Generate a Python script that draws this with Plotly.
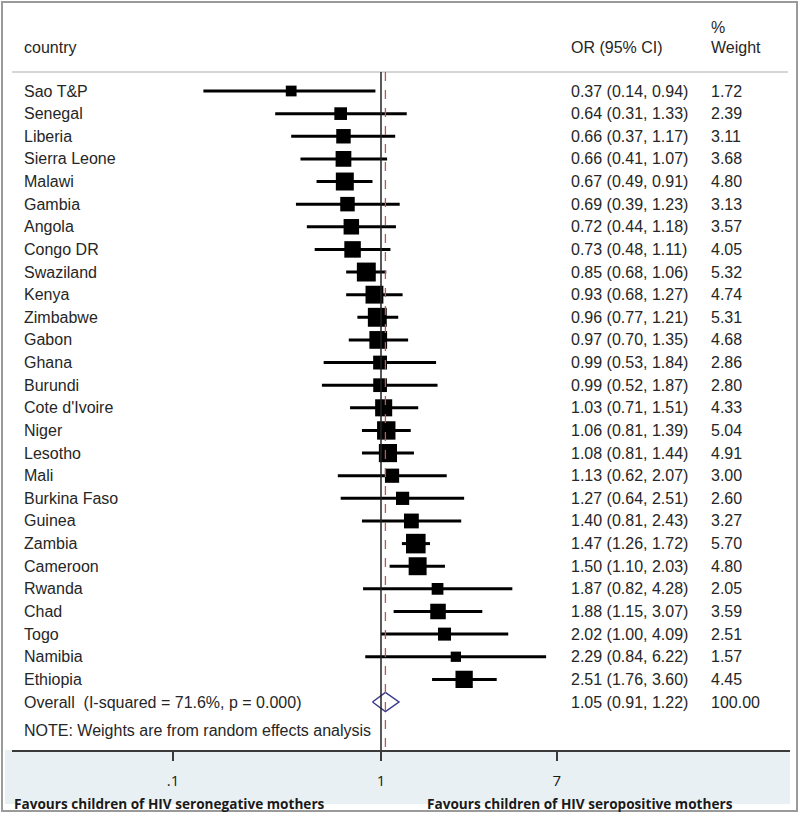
import math
import plotly.graph_objects as go

countries = ["Sao T&P", "Senegal", "Liberia", "Sierra Leone", "Malawi", "Gambia", "Angola",
             "Congo DR", "Swaziland", "Kenya", "Zimbabwe", "Gabon", "Ghana", "Burundi",
             "Cote d'Ivoire", "Niger", "Lesotho", "Mali", "Burkina Faso", "Guinea", "Zambia",
             "Cameroon", "Rwanda", "Chad", "Togo", "Namibia", "Ethiopia"]
or_vals = [0.37, 0.64, 0.66, 0.66, 0.67, 0.69, 0.72, 0.73, 0.85, 0.93, 0.96, 0.97, 0.99, 0.99,
           1.03, 1.06, 1.08, 1.13, 1.27, 1.40, 1.47, 1.50, 1.87, 1.88, 2.02, 2.29, 2.51]
ci_low = [0.14, 0.31, 0.37, 0.41, 0.49, 0.39, 0.44, 0.48, 0.68, 0.68, 0.77, 0.70, 0.53, 0.52,
          0.71, 0.81, 0.81, 0.62, 0.64, 0.81, 1.26, 1.10, 0.82, 1.15, 1.00, 0.84, 1.76]
ci_high = [0.94, 1.33, 1.17, 1.07, 0.91, 1.23, 1.18, 1.11, 1.06, 1.27, 1.21, 1.35, 1.84, 1.87,
           1.51, 1.39, 1.44, 2.07, 2.51, 2.43, 1.72, 2.03, 4.28, 3.07, 4.09, 6.22, 3.60]
weights = [1.72, 2.39, 3.11, 3.68, 4.80, 3.13, 3.57, 4.05, 5.32, 4.74, 5.31, 4.68, 2.86, 2.80,
           4.33, 5.04, 4.91, 3.00, 2.60, 3.27, 5.70, 4.80, 2.05, 3.59, 2.51, 1.57, 4.45]

overall_label = "Overall  (I-squared = 71.6%, p = 0.000)"
overall_or, overall_low, overall_high, overall_weight = 1.05, 0.91, 1.22, 100.00
note_text = "NOTE: Weights are from random effects analysis"

tick_vals = [0.1, 1, 7]
tick_text = [".1", "1", "7"]
left_label = "Favours children of HIV seronegative mothers"
right_label = "Favours children of HIV seropositive mothers"

# ---- layout geometry (pixels) ----
W, H = 800, 817
L, R, T, B = 12, 790, 5, 750          # plot area in pixels
ROW0, ROWSTEP = 91, 22.63             # pixel y of first row, row spacing
PX_PER_DEC = 208
X_ONE = 381                            # pixel x of OR = 1


def px_x(p):
    return (p - L) / (R - L)


def px_y(p):
    return (B - p) / (B - T)


x_range = [(L - X_ONE) / PX_PER_DEC, (R - X_ONE) / PX_PER_DEC]
y_range = [(B - ROW0) / ROWSTEP, (T - ROW0) / ROWSTEP]

n = len(countries)
rows = list(range(n))
overall_row = n
note_row = n + 1.27

fig = go.Figure()

# CI lines
lx, ly = [], []
for i in rows:
    lx += [ci_low[i], ci_high[i], None]
    ly += [i, i, None]
fig.add_trace(go.Scatter(x=lx, y=ly, mode="lines", line=dict(color="black", width=3),
                         hoverinfo="skip", showlegend=False))

# weighted squares
fig.add_trace(go.Scatter(x=or_vals, y=rows, mode="markers", opacity=1,
                         marker=dict(symbol="square", color="#000000", opacity=1,
                                     size=[8.2 * math.sqrt(w) for w in weights],
                                     line=dict(width=0)),
                         showlegend=False))

# overall diamond
dh = 0.42
fig.add_trace(go.Scatter(x=[overall_low, overall_or, overall_high, overall_or, overall_low],
                         y=[overall_row, overall_row - dh, overall_row, overall_row + dh, overall_row],
                         mode="lines", fill="toself", fillcolor="white",
                         line=dict(color="#3a3a8c", width=1.5), showlegend=False))

shapes = []
# outer frame
shapes.append(dict(type="rect", xref="paper", yref="paper", x0=px_x(2), x1=px_x(797),
                   y0=px_y(2), y1=px_y(811), line=dict(color="#9a9a9a", width=2), layer="below"))
# bottom band
shapes.append(dict(type="rect", xref="paper", yref="paper", x0=px_x(5), x1=px_x(790),
                   y0=px_y(750), y1=px_y(804), fillcolor="#e8f0f4", line=dict(width=0),
                   layer="below"))
# header separator
shapes.append(dict(type="line", xref="paper", yref="paper", x0=px_x(12), x1=px_x(788),
                   y0=px_y(72), y1=px_y(72), line=dict(color="#d6d6d6", width=2)))
# null line
shapes.append(dict(type="line", xref="x", yref="paper", x0=1, x1=1,
                   y0=px_y(72), y1=0, line=dict(color="#222222", width=1.5)))
# overall dashed line
shapes.append(dict(type="line", xref="x", yref="paper", x0=overall_or, x1=overall_or,
                   y0=px_y(72), y1=0, line=dict(color="#b05a5a", width=1.3, dash="dash")))

FONT = "Liberation Sans"
TXT = "#262626"
annotations = []


def add_text(xp, y, text, yref="y", size=16, color=TXT, family=FONT, xanchor="left"):
    annotations.append(dict(x=px_x(xp), xref="paper", y=y, yref=yref, text=text,
                            showarrow=False, xanchor=xanchor, yanchor="middle",
                            xshift=-2,
                            font=dict(family=family, size=size, color=color)))


# header
add_text(24, px_y(48), "country", yref="paper")
add_text(571, px_y(48), "OR (95% CI)", yref="paper")
add_text(711, px_y(27), "%", yref="paper")
add_text(711, px_y(48), "Weight", yref="paper")

for i in rows:
    add_text(24, i, countries[i])
    add_text(571, i, f"{or_vals[i]:.2f} ({ci_low[i]:.2f}, {ci_high[i]:.2f})")
    add_text(711, i, f"{weights[i]:.2f}")

add_text(24, overall_row, overall_label)
add_text(571, overall_row, f"{overall_or:.2f} ({overall_low:.2f}, {overall_high:.2f})")
add_text(711, overall_row, f"{overall_weight:.2f}")
add_text(24, note_row, note_text)

add_text(14, px_y(803), f"<b>{left_label}</b>", yref="paper", size=13.6, family="Open Sans",
         color="#1a1a1a")
add_text(427, px_y(803), f"<b>{right_label}</b>", yref="paper", size=13.6, family="Open Sans",
         color="#1a1a1a")

fig.update_layout(
    width=W, height=H,
    margin=dict(l=L, r=W - R, t=T, b=H - B),
    paper_bgcolor="white", plot_bgcolor="rgba(0,0,0,0)",
    shapes=shapes, annotations=annotations,
    xaxis=dict(type="log", range=x_range, showgrid=False, zeroline=False,
               showline=True, linecolor="#3a3a3a", linewidth=2,
               ticks="outside", ticklen=9, tickwidth=1.5, tickcolor="#3a3a3a",
               tickvals=tick_vals, ticktext=tick_text, ticklabelstandoff=7,
               tickfont=dict(family="Open Sans", size=15, color="#1a1a1a")),
    yaxis=dict(range=y_range, visible=False),
    showlegend=False,
)

fig.write_html("out.html", config={"displayModeBar": False},
               post_script="document.body.style.margin='0';document.body.style.overflow='hidden';")
